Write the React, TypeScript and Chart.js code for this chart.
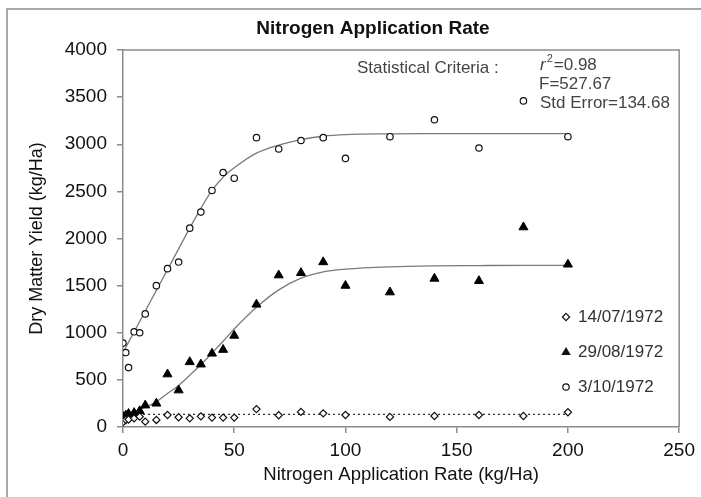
import React, { useEffect, useRef } from "react";
import { Chart, registerables } from "chart.js";

Chart.register(...registerables);

// ---- Data ----
const nitrogenRates = [0, 1.25, 2.5, 5, 7.5, 10, 15, 20, 25, 30, 35, 40, 45, 50, 60, 70, 80, 90, 100, 120, 140, 160, 180, 200];
const yieldOct = [890, 790, 630, 1010, 1000, 1200, 1500, 1680, 1750, 2110, 2280, 2510, 2700, 2640, 3070, 2950, 3040, 3070, 2850, 3080, 3260, 2960, 3460, 3080];
const yieldAug = [110, 125, 140, 150, 170, 230, 250, 560, 390, 690, 665, 780, 820, 970, 1300, 1610, 1635, 1750, 1500, 1430, 1575, 1550, 2120, 1725];
const yieldJul = [50, 75, 80, 92, 110, 57, 75, 127, 103, 92, 113, 100, 100, 100, 190, 125, 160, 145, 127, 107, 117, 127, 117, 156];

const fitRates = [0, 5, 10, 15, 20, 25, 30, 35, 40, 45, 50, 60, 70, 80, 90, 100, 120, 140, 160, 180, 200];
const fitOct = [790, 1010, 1230, 1450, 1670, 1890, 2110, 2320, 2510, 2650, 2750, 2905, 2990, 3050, 3085, 3102, 3110, 3112, 3113, 3113, 3113];
const fitAug = [135, 165, 210, 268, 355, 440, 550, 660, 785, 910, 1040, 1270, 1455, 1580, 1647, 1675, 1700, 1710, 1713, 1715, 1715];
const fitJulRates = [0, 200];
const fitJul = [135, 135];

const legendLabels = ["14/07/1972", "29/08/1972", "3/10/1972"];
const statsTitle = "Statistical Criteria :";
const statR2 = "=0.98";
const statF = "F=527.67";
const statSE = "Std Error=134.68";
const chartTitle = "Nitrogen Application Rate";
const xTitle = "Nitrogen Application Rate (kg/Ha)";
const yTitle = "Dry Matter Yield (kg/Ha)";

const FONT = "'Liberation Sans', Arial, sans-serif";
const AXIS_GREY = "#8c8c8c";

const toXY = (xs: number[], ys: number[]) => xs.map((x, i) => ({ x, y: ys[i] }));

function drawMarker(ctx: CanvasRenderingContext2D, kind: string, x: number, y: number) {
  ctx.save();
  ctx.strokeStyle = "#111";
  ctx.fillStyle = "#111";
  ctx.lineWidth = 1.2;
  ctx.beginPath();
  if (kind === "circle") {
    ctx.arc(x, y, 3.2, 0, Math.PI * 2);
    ctx.fillStyle = "#fff";
    ctx.fill();
    ctx.stroke();
  } else if (kind === "triangle") {
    const r = 5;
    ctx.moveTo(x, y - r);
    ctx.lineTo(x + r * 0.95, y + r * 0.6);
    ctx.lineTo(x - r * 0.95, y + r * 0.6);
    ctx.closePath();
    ctx.fill();
  } else {
    const r = 3.6;
    ctx.moveTo(x, y - r);
    ctx.lineTo(x + r, y);
    ctx.lineTo(x, y + r);
    ctx.lineTo(x - r, y);
    ctx.closePath();
    ctx.fillStyle = "#fff";
    ctx.fill();
    ctx.stroke();
  }
  ctx.restore();
}

const overlayPlugin = {
  id: "overlay",
  beforeDatasetsDraw(chart: any) {
    const { ctx, chartArea } = chart;
    const { left, top, right, bottom } = chartArea;
    ctx.save();
    ctx.strokeStyle = AXIS_GREY;
    ctx.lineWidth = 1.5;
    ctx.beginPath();
    ctx.moveTo(left, top);
    ctx.lineTo(right, top);
    ctx.lineTo(right, bottom);
    ctx.stroke();
    ctx.beginPath();
    ctx.moveTo(7, chart.height);
    ctx.lineTo(7, 9);
    ctx.lineTo(chart.width, 9);
    ctx.stroke();
    ctx.restore();
  },
  afterDraw(chart: any) {
    const { ctx } = chart;
    ctx.save();
    // title
    ctx.fillStyle = "#111";
    ctx.font = `bold 19px ${FONT}`;
    ctx.textAlign = "center";
    ctx.textBaseline = "middle";
    ctx.fillText(chartTitle, 373, 29);

    // statistics
    ctx.fillStyle = "#444";
    ctx.textAlign = "left";
    ctx.font = `17px ${FONT}`;
    ctx.fillText(statsTitle, 357, 68);
    ctx.font = `italic 17px ${FONT}`;
    ctx.fillText("r", 540, 65);
    const rw = ctx.measureText("r").width;
    ctx.font = `11px ${FONT}`;
    ctx.fillText("2", 540 + rw + 1, 59);
    const w2 = ctx.measureText("2").width;
    ctx.font = `17px ${FONT}`;
    ctx.fillText(statR2, 540 + rw + w2 + 2, 65);
    ctx.fillText(statF, 539, 84);
    ctx.fillText(statSE, 540, 103);

    // legend
    const kinds = ["diamond", "triangle", "circle"];
    const ys = [317, 352, 387];
    legendLabels.forEach((label, i) => {
      drawMarker(ctx, kinds[i], 566, ys[i]);
      ctx.fillStyle = "#333";
      ctx.font = `17px ${FONT}`;
      ctx.textAlign = "left";
      ctx.textBaseline = "middle";
      ctx.fillText(label, 578, ys[i]);
    });
    ctx.restore();
  },
};

export default function App() {
  const canvasRef = useRef<HTMLCanvasElement | null>(null);

  useEffect(() => {
    const canvas = canvasRef.current;
    if (!canvas) return;
    const chart = new Chart(canvas, {
      type: "scatter",
      data: {
        datasets: [
          {
            label: "fit Oct",
            data: toXY(fitRates, fitOct),
            showLine: true,
            borderColor: "#7a7a7a",
            borderWidth: 1.3,
            pointRadius: 0,
            cubicInterpolationMode: "monotone",
            order: 5,
          },
          {
            label: "fit Aug",
            data: toXY(fitRates, fitAug),
            showLine: true,
            borderColor: "#7a7a7a",
            borderWidth: 1.3,
            pointRadius: 0,
            cubicInterpolationMode: "monotone",
            order: 5,
          },
          {
            label: "fit Jul",
            data: toXY(fitJulRates, fitJul),
            showLine: true,
            borderColor: "#333",
            borderWidth: 1.2,
            borderDash: [2, 3],
            pointRadius: 0,
            order: 5,
          },
          {
            label: "14/07/1972",
            data: toXY(nitrogenRates, yieldJul),
            pointStyle: "rectRot",
            pointRadius: 3.6,
            pointBorderWidth: 1.2,
            pointBorderColor: "#111",
            pointBackgroundColor: "#fff",
            showLine: false,
            order: 1,
          },
          {
            label: "29/08/1972",
            data: toXY(nitrogenRates, yieldAug),
            pointStyle: "triangle",
            pointRadius: 5.2,
            pointBorderWidth: 1,
            pointBorderColor: "#000",
            pointBackgroundColor: "#000",
            showLine: false,
            order: 1,
          },
          {
            label: "3/10/1972",
            data: toXY(nitrogenRates, yieldOct),
            pointStyle: "circle",
            pointRadius: 3.2,
            pointBorderWidth: 1.2,
            pointBorderColor: "#111",
            pointBackgroundColor: "#fff",
            showLine: false,
            order: 1,
          },
        ],
      },
      options: {
        responsive: false,
        animation: false,
        events: [],
        layout: { padding: { top: 50, right: 17, left: 0, bottom: 0 } },
        plugins: {
          legend: { display: false },
          title: { display: false },
          tooltip: { enabled: false },
        },
        scales: {
          x: {
            type: "linear",
            min: 0,
            max: 250,
            afterFit: (scale: any) => {
              scale.height = 70;
            },
            ticks: {
              stepSize: 50,
              color: "#111",
              padding: 6,
              font: { family: FONT, size: 19 },
              maxRotation: 0,
              callback: (v: any) => String(v),
            },
            grid: {
              drawOnChartArea: false,
              drawTicks: true,
              tickLength: 6,
              color: AXIS_GREY,
              lineWidth: 1.5,
            },
            border: { display: true, color: AXIS_GREY, width: 1.5 },
            title: {
              display: true,
              text: xTitle,
              color: "#111",
              font: { family: FONT, size: 18.5 },
              padding: { top: 0, bottom: 11 },
            },
          },
          y: {
            type: "linear",
            min: 0,
            max: 4000,
            afterFit: (scale: any) => {
              scale.width = 123;
            },
            ticks: {
              stepSize: 500,
              color: "#111",
              padding: 10,
              font: { family: FONT, size: 19 },
              callback: (v: any) => String(v),
            },
            grid: {
              drawOnChartArea: false,
              drawTicks: true,
              tickLength: 6,
              color: AXIS_GREY,
              lineWidth: 1.5,
            },
            border: { display: true, color: AXIS_GREY, width: 1.5 },
            title: {
              display: true,
              text: yTitle,
              color: "#111",
              font: { family: FONT, size: 18 },
              padding: { top: 26, bottom: 0 },
            },
          },
        },
      },
      plugins: [overlayPlugin],
    } as any);
    return () => chart.destroy();
  }, []);

  return (
    <div style={{ position: "absolute", left: 0, top: 0, width: 701, height: 497, background: "#fff" }}>
      <canvas ref={canvasRef} width={701} height={497} style={{ display: "block" }} />
    </div>
  );
}
